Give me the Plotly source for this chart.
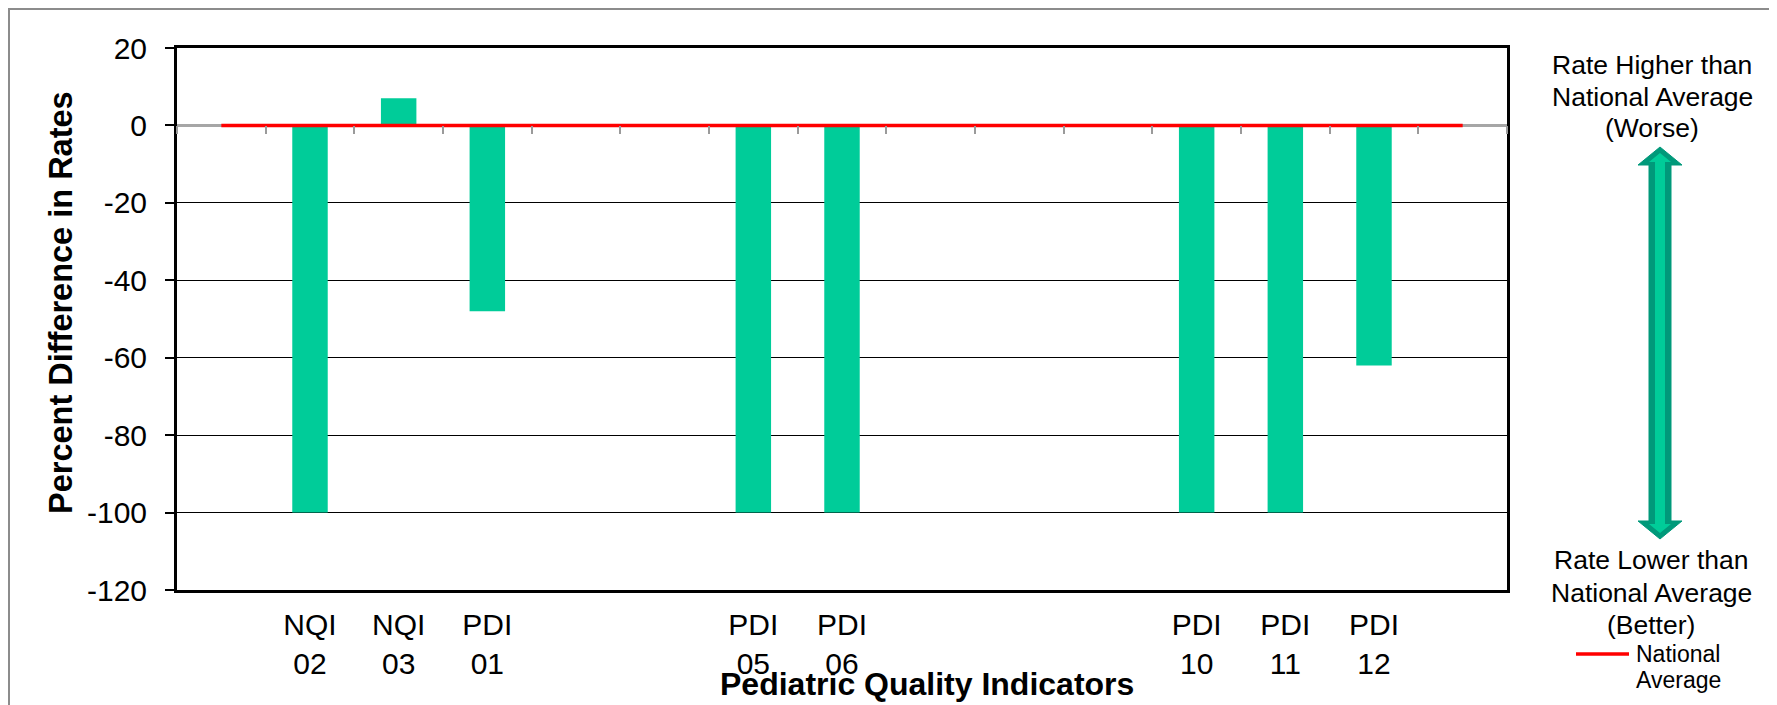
import plotly.graph_objects as go

# ---------------- data ----------------
categories = ["", "NQI 02", "NQI 03", "PDI 01", "", "", "PDI 05", "PDI 06",
              "", "", "", "PDI 10", "PDI 11", "PDI 12", ""]
pct_diff = [None, -100, 7, -48, None, None, -100, -100,
            None, None, None, -100, -100, -62, None]
national_avg = [0] * len(categories)

y_range = [-120, 20]
y_ticks = [20, 0, -20, -40, -60, -80, -100, -120]
y_ticktext = [str(v) for v in y_ticks]          # plain hyphen minus, as in the reference

note_worse = ["Rate Higher than", "National Average", "(Worse)"]
note_better = ["Rate Lower than", "National Average", "(Better)"]
legend_lines = ["National", "Average"]

# ---------------- layout geometry (page pixels) ----------------
W, H = 1777, 705
OFF = 8                                   # the page body offsets the figure by 8px
L, R, T, B = 177, 1507, 48, 590          # plot area edges on the page


def px(xp):
    return (xp - L) / (R - L)


def py(yp):
    return (B - yp) / (B - T)


FONT = "Arial, Liberation Sans, sans-serif"
BAR = "#00CC99"
DARK = "#00997A"

xs = list(range(len(categories)))
ticktext = [c.replace(" ", "<br>") for c in categories]

fig = go.Figure()
fig.add_trace(go.Bar(
    x=xs, y=pct_diff, width=0.4, marker=dict(color=BAR, line=dict(width=0)),
    name="Percent Difference", showlegend=False, xaxis="x", yaxis="y"))
fig.add_trace(go.Scatter(
    x=xs, y=national_avg, mode="lines", line=dict(color="#FF0000", width=3.5),
    name="National Average", showlegend=False, xaxis="x2", yaxis="y"))

xr = [-0.5, len(categories) - 0.5]
zero_pos = (0 - y_range[0]) / (y_range[1] - y_range[0])

fig.update_layout(
    width=W - OFF, height=H - OFF,
    margin=dict(l=L - OFF, r=W - R, t=T - OFF, b=H - B, pad=0),
    paper_bgcolor="white", plot_bgcolor="white",
    font=dict(family=FONT, color="black"),
    xaxis=dict(range=xr, tickmode="array", tickvals=xs, ticktext=ticktext,
               ticks="", showgrid=False, zeroline=False,
               showline=True, mirror=True, linecolor="black", linewidth=3,
               tickfont=dict(size=30, family=FONT), ticklabelstandoff=6),
    xaxis2=dict(range=xr, overlaying="x", anchor="free", position=zero_pos,
                side="bottom", tickmode="array",
                tickvals=[i - 0.5 for i in range(len(categories) + 1)],
                ticks="outside", ticklen=8, tickwidth=2, tickcolor="#9A9A9A",
                showticklabels=False, showgrid=False, zeroline=False,
                showline=False),
    yaxis=dict(range=y_range, tickmode="array", tickvals=y_ticks, ticktext=y_ticktext,
               ticks="outside", ticklen=9, tickwidth=1.5, tickcolor="black",
               showgrid=True, gridcolor="black", gridwidth=1,
               zeroline=True, zerolinecolor="#A6A6A6", zerolinewidth=2.5,
               showline=True, mirror=True, linecolor="black", linewidth=3,
               tickfont=dict(size=30, family=FONT), ticklabelstandoff=12),
)

# axis titles
fig.add_annotation(text="<b>Pediatric Quality Indicators</b>", xref="paper", yref="paper",
                   x=px(927), y=py(684), showarrow=False, xanchor="center", yanchor="middle",
                   font=dict(size=32, family=FONT, color="black"))
fig.add_annotation(text="<b>Percent Difference in Rates</b>", xref="paper", yref="paper",
                   x=px(61), y=py(303), showarrow=False, textangle=-90,
                   xanchor="center", yanchor="middle",
                   font=dict(size=32.5, family=FONT, color="black"))


def text_line(txt, x, baseline, size, anchor="center"):
    fig.add_annotation(text=txt, xref="paper", yref="paper",
                       x=px(x), y=py(baseline - 0.35 * size), showarrow=False,
                       xanchor=anchor, yanchor="middle",
                       font=dict(size=size, family=FONT, color="black"))


# right-hand explanatory notes
for txt, base in zip(note_worse, [74, 106, 137]):
    text_line(txt, 1652, base, 26.5)
for txt, base in zip(note_better, [569, 602, 634]):
    text_line(txt, 1651, base, 26.5)

# legend (manual)
fig.add_shape(type="line", xref="paper", yref="paper", x0=px(1576), x1=px(1629),
              y0=py(654), y1=py(654), line=dict(color="#FF0000", width=3.5))
for txt, base in zip(legend_lines, [662, 688]):
    text_line(txt, 1634, base, 23, anchor="left")


# double-headed arrow
def poly(pts):
    return "M " + " L ".join(f"{px(a):.5f},{py(b):.5f}" for a, b in pts) + " Z"


cx = 1660
outer = [(cx, 147), (cx + 22, 165), (cx + 11, 165), (cx + 11, 521), (cx + 22, 521),
         (cx, 539), (cx - 22, 521), (cx - 11, 521), (cx - 11, 165), (cx - 22, 165)]
inner = [(cx, 153), (cx + 11, 162), (cx + 5, 162), (cx + 5, 524), (cx + 11, 524),
         (cx, 533), (cx - 11, 524), (cx - 5, 524), (cx - 5, 162), (cx - 11, 162)]
fig.add_shape(type="path", xref="paper", yref="paper", path=poly(outer),
              fillcolor=DARK, line=dict(color=DARK, width=1))
fig.add_shape(type="path", xref="paper", yref="paper", path=poly(inner),
              fillcolor=BAR, line=dict(width=0))

# outer frame and slide edge
fig.add_shape(type="rect", xref="paper", yref="paper", x0=px(9), x1=px(1770),
              y0=py(9), y1=py(720), line=dict(color="#8C8C8C", width=2),
              fillcolor="rgba(0,0,0,0)")
fig.add_shape(type="rect", xref="paper", yref="paper", x0=px(1771.5), x1=px(1773.5),
              y0=py(0), y1=py(705), line=dict(width=0), fillcolor="#E8A33C")
fig.add_shape(type="rect", xref="paper", yref="paper", x0=px(1773.5), x1=px(1778),
              y0=py(0), y1=py(705), line=dict(width=0), fillcolor="#1414B4")

fig.write_html("out.html")
